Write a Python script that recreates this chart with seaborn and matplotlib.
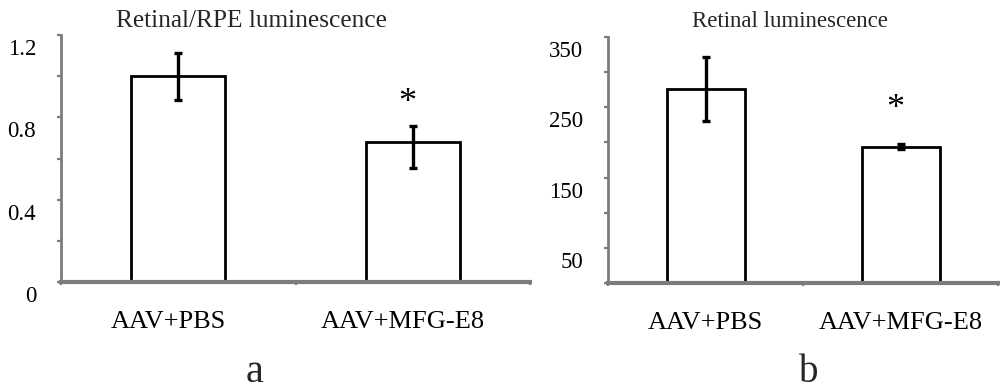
import matplotlib
matplotlib.use("Agg")
import matplotlib.pyplot as plt
from matplotlib.transforms import ScaledTranslation
import seaborn as sns
import pandas as pd

# ---- data ----
categories = ["AAV+PBS", "AAV+MFG-E8"]
rpe_mean = [1.0, 0.68]
rpe_err_low = [0.115, 0.127]
rpe_err_high = [0.114, 0.078]
ret_mean = [276, 194]
ret_err = [45.7, 4.0]

titles = ["Retinal/RPE luminescence", "Retinal luminescence"]
panel_letters = ["a", "b"]
rpe_ticks = [0, 0.2, 0.4, 0.6, 0.8, 1.0, 1.2]
rpe_ticklabels = ["0", "", "0.4", "", "0.8", "", "1.2"]
ret_ticks = [0, 50, 100, 150, 200, 250, 300, 350]
ret_ticklabels = ["", "50", "", "150", "", "250", "", "350"]
sig_mark = "*"

sns.set_theme(style="white")
plt.rcParams["font.family"] = ["Liberation Serif", "DejaVu Serif"]

fig = plt.figure(figsize=(10, 3.9), dpi=100)
ax_a = fig.add_axes([0.061, 0.277, 0.469, 0.633])
ax_b = fig.add_axes([0.608, 0.2744, 0.390, 0.631])

GRAY = "#7c7c7c"


def draw_panel(ax, means, err_lo, err_hi, ticks, ticklabels, ymax, star_y, star_dx):
    df = pd.DataFrame({"group": categories, "value": means})
    sns.barplot(data=df, x="group", y="value", color="white", saturation=1,
                edgecolor="black", linewidth=2.0, width=0.4, errorbar=None, ax=ax)
    ax.errorbar(x=list(range(len(categories))), y=means, yerr=[err_lo, err_hi],
                fmt="none", ecolor="black", elinewidth=2.4, capsize=3.2,
                capthick=2.4)
    ax.set_xlim(-0.5, 1.5)
    ax.set_ylim(0, ymax)
    ax.set_xlabel("")
    ax.set_ylabel("")
    for s in ["top", "right"]:
        ax.spines[s].set_visible(False)
    ax.spines["left"].set_color(GRAY)
    ax.spines["left"].set_linewidth(2.0)
    ax.spines["bottom"].set_color(GRAY)
    ax.spines["bottom"].set_linewidth(3.0)
    ax.set_yticks(ticks)
    ax.set_yticklabels(ticklabels)
    ax.tick_params(axis="y", which="major", direction="out", length=3, width=1.6,
                   color=GRAY, pad=15, labelsize=16.5, labelcolor="black", left=True)
    ax.set_xticks(range(len(categories)))
    ax.set_xticklabels(categories)
    ax.set_xticks([-0.5, 0.5, 1.5], minor=True)
    ax.tick_params(axis="x", which="major", length=0, pad=21, labelsize=19,
                   labelcolor="black", bottom=True)
    ax.tick_params(axis="x", which="minor", direction="out", length=2.5, width=1.6,
                   color=GRAY, bottom=True)
    shift = ScaledTranslation(0, -0.12, fig.dpi_scale_trans)
    for lab in ax.get_yticklabels():
        lab.set_transform(lab.get_transform() + shift)
    ax.text(1 + star_dx, star_y, sig_mark, ha="center", va="baseline",
            fontsize=26, color="black")
    ax.grid(False)


draw_panel(ax_a, rpe_mean, rpe_err_low, rpe_err_high, rpe_ticks, rpe_ticklabels,
           1.2, 0.825, -0.025)
draw_panel(ax_b, ret_mean, ret_err, ret_err, ret_ticks, ret_ticklabels,
           350, 235, -0.025)

# shift panel-a category labels slightly left like the reference
lshift = ScaledTranslation(-0.1, 0, fig.dpi_scale_trans)
for lab in ax_a.get_xticklabels():
    lab.set_transform(lab.get_transform() + lshift)

fig.text(0.251, 0.931, titles[0], ha="center", va="baseline", fontsize=18.3)
fig.text(0.790, 0.931, titles[1], ha="center", va="baseline", fontsize=16.5)
fig.text(0.255, 0.02, panel_letters[0], ha="center", va="baseline", fontsize=29)
fig.text(0.809, 0.02, panel_letters[1], ha="center", va="baseline", fontsize=28)

fig.savefig("out.png", dpi=100, facecolor="white")
